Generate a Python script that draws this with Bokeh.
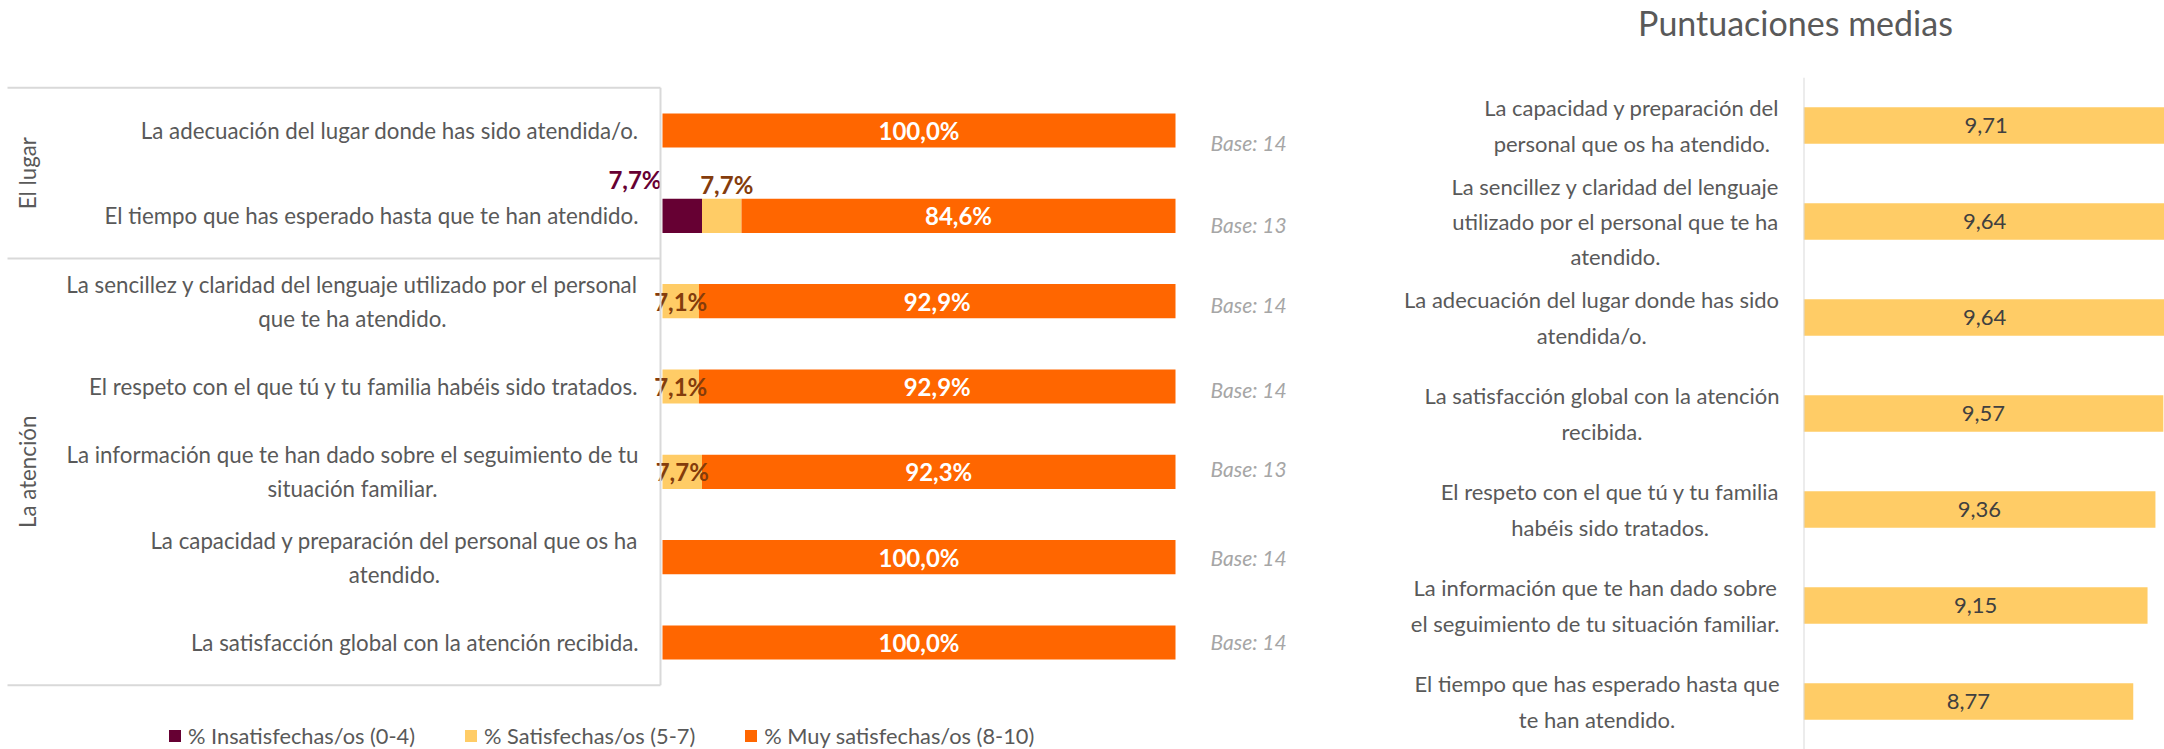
import math
from bokeh.plotting import figure
from bokeh.models import ColumnDataSource, Range1d, FactorRange, Legend, LegendItem, Span
from bokeh.layouts import row
from bokeh.core.properties import value
from bokeh.embed import file_html
from bokeh.resources import INLINE

# ---------------- data: left chart (stacked %) ----------------
categories = [
    "La adecuación del lugar donde has sido atendida/o.",
    "El tiempo que has esperado hasta que te han atendido.",
    "La sencillez y claridad del lenguaje utilizado por el personal\nque te ha atendido.",
    "El respeto con el que tú y tu familia habéis sido tratados.",
    "La información que te han dado sobre el seguimiento de tu\nsituación familiar.",
    "La capacidad y preparación del personal que os ha\natendido.",
    "La satisfacción global con la atención recibida.",
]
insatisfechas = [0.0, 7.7, 0.0, 0.0, 0.0, 0.0, 0.0]
satisfechas = [0.0, 7.7, 7.1, 7.1, 7.7, 0.0, 0.0]
muy_satisfechas = [100.0, 84.6, 92.9, 92.9, 92.3, 100.0, 100.0]
bases = [14, 13, 14, 14, 13, 14, 14]
groups = ["El lugar", "La atención"]
group_sizes = [2, 5]
series_names = ["% Insatisfechas/os (0-4)", "% Satisfechas/os (5-7)", "% Muy satisfechas/os (8-10)"]

# ---------------- data: right chart (mean scores) ----------------
score_labels = [
    "La capacidad y preparación del\npersonal que os ha atendido.",
    "La sencillez y claridad del lenguaje\nutilizado por el personal que te ha\natendido.",
    "La adecuación del lugar donde has sido\natendida/o.",
    "La satisfacción global con la atención\nrecibida.",
    "El respeto con el que tú y tu familia\nhabéis sido tratados.",
    "La información que te han dado sobre\nel seguimiento de tu situación familiar.",
    "El tiempo que has esperado hasta que\nte han atendido.",
]
scores = [9.71, 9.64, 9.64, 9.57, 9.36, 9.15, 8.77]
right_title = "Puntuaciones medias"

# ---------------- styles ----------------
FONT = "Lato"
C_INSAT, C_SAT, C_MUY = "#660033", "#FFCC66", "#FF6600"
C_TEXT = "#595959"
C_LINE = "#D9D9D9"
H = 749

def pct(v):
    return f"{v:.1f}".replace(".", ",") + "%"

# ================= LEFT FIGURE =================
WL = 1300
X0 = 662          # px where 0% sits
PXU = 5.13        # px per percentage point
L_TOP = 23
BAND_L = 85.33
def lx(px):
    return (px - X0) / PXU

pad_l = (H - (L_TOP + BAND_L * len(categories))) / 2 / BAND_L
p = figure(width=WL, height=H, title=None,
           x_range=Range1d(-X0 / PXU, (WL - X0) / PXU),
           y_range=FactorRange(factors=list(reversed(categories)),
                               range_padding=pad_l, range_padding_units="absolute"),
           output_backend="svg", toolbar_location=None,
           x_axis_location=None, y_axis_location=None,
           min_border_left=0, min_border_right=0,
           min_border_top=L_TOP, min_border_bottom=0)
p.frame_align = False
p.outline_line_color = None
p.grid.visible = False

src = ColumnDataSource(dict(cat=categories, insat=insatisfechas,
                            sat=satisfechas, muy=muy_satisfechas))
rs = p.hbar_stack(["insat", "sat", "muy"], y="cat", height=0.4,
                  color=[C_INSAT, C_SAT, C_MUY], line_color=None, source=src)

# category labels
p.text(x=0, y="cat", text="cat", source=src, x_offset=-24,
       anchor="center_right", text_align="center", text_baseline="middle",
       text_font=value(FONT), text_font_size="22.3px", text_color=C_TEXT,
       text_line_height=1.26)

# value labels: very satisfied
muy_src = ColumnDataSource(dict(
    cat=categories,
    x=[i + s + m / 2 for i, s, m in zip(insatisfechas, satisfechas, muy_satisfechas)],
    t=[pct(m) for m in muy_satisfechas]))
p.text(x="x", y="cat", text="t", source=muy_src, text_align="center",
       text_baseline="middle", text_font=value(FONT), text_font_size="24px",
       text_font_style="bold", text_color="white")

# satisfied labels
sat_rows = [k for k, s in enumerate(satisfechas) if s > 0]
sat_src = ColumnDataSource(dict(
    cat=[categories[k] for k in sat_rows],
    x=[insatisfechas[k] + satisfechas[k] / 2 for k in sat_rows],
    dy=[-31 if insatisfechas[k] > 0 else 0 for k in sat_rows],
    dx=[5 if insatisfechas[k] > 0 else 0 for k in sat_rows],
    t=[pct(satisfechas[k]) for k in sat_rows]))
p.text(x="x", y="cat", text="t", source=sat_src, x_offset="dx", y_offset="dy",
       text_align="center", text_baseline="middle", text_font=value(FONT),
       text_font_size="24px", text_font_style="bold", text_color="#843C0C")

# unsatisfied labels
ins_rows = [k for k, v in enumerate(insatisfechas) if v > 0]
ins_src = ColumnDataSource(dict(
    cat=[categories[k] for k in ins_rows],
    x=[0 for k in ins_rows],
    t=[pct(insatisfechas[k]) for k in ins_rows]))
p.text(x="x", y="cat", text="t", source=ins_src, x_offset=-1, y_offset=-36,
       text_align="right", text_baseline="middle", text_font=value(FONT),
       text_font_size="24px", text_font_style="bold", text_color=C_INSAT)

# base labels
base_dy = [12, 9, 3, 3, -3, 0, -1]
base_src = ColumnDataSource(dict(cat=categories, t=[f"Base: {b}" for b in bases],
                                 dy=base_dy))
p.text(x=lx(1210), y="cat", text="t", source=base_src, y_offset="dy",
       text_align="left", text_baseline="middle", text_font=value(FONT),
       text_font_size="21px", text_font_style="italic", text_color="#A6A6A6")

# group box lines and labels
xa, xb = lx(7), lx(660)
hy = [(categories[0], 0.5)]
start = 0
g_y = []
for size in group_sizes:
    end = start + size - 1
    hy.append((categories[end], -0.5))
    if size % 2 == 1:
        g_y.append((categories[start + size // 2], 0.0))
    else:
        g_y.append((categories[start + size // 2 - 1], -0.5))
    start += size
lines = ColumnDataSource(dict(
    x0=[xa] * len(hy) + [xb], x1=[xb] * len(hy) + [xb],
    y0=hy + [hy[0]], y1=hy + [hy[-1]]))
seg = p.segment(x0="x0", y0="y0", x1="x1", y1="y1", source=lines,
                line_color=C_LINE, line_width=2)
seg.level = "overlay"

p.text(x=[lx(27)] * len(groups), y=g_y, text=groups, angle=math.pi / 2,
       anchor="center", text_align="center", text_baseline="middle",
       text_font=value(FONT), text_font_size="22.3px", text_color=C_TEXT)

legend = Legend(items=[LegendItem(label=series_names[k], renderers=[rs[k]]) for k in range(3)],
                orientation="horizontal", location=(167, 0),
                glyph_width=15, glyph_height=15, label_standoff=6, spacing=48,
                padding=0, margin=0, border_line_color=None,
                background_fill_alpha=0, label_text_font=FONT,
                label_text_font_size="21.8px", label_text_color=C_TEXT)
p.add_layout(legend)

# ================= RIGHT FIGURE =================
WR = 864
R_LEFT = 503
R_TOP = 77
PXS = 37.6
q = figure(width=WR, height=H, title=None,
           x_range=Range1d(0, (WR - R_LEFT) / PXS),
           y_range=FactorRange(factors=list(reversed(score_labels))),
           output_backend="svg", toolbar_location=None,
           x_axis_location=None, y_axis_location=None,
           min_border_left=R_LEFT, min_border_right=0,
           min_border_top=R_TOP, min_border_bottom=0)
q.frame_align = False
q.outline_line_color = None
q.grid.visible = False

src2 = ColumnDataSource(dict(cat=score_labels, score=scores,
                             mid=[s / 2 for s in scores],
                             t=[f"{s:.2f}".replace(".", ",") for s in scores]))
q.hbar(y="cat", left=0, right="score", height=0.38, color=C_SAT,
       line_color=None, source=src2)
q.text(x="mid", y="cat", text="t", source=src2, text_align="center",
       text_baseline="middle", text_font=value(FONT), text_font_size="22px",
       text_color="#404040")
lab = q.text(x=0, y="cat", text="cat", source=src2, x_offset=-24,
             anchor="center_right", text_align="center", text_baseline="middle",
             text_font=value(FONT), text_font_size="22px", text_color=C_TEXT,
             text_line_height=1.3)
lab.level = "overlay"
q.add_layout(Span(location=0, dimension="height", line_color=C_LINE, line_width=2))

band = (H - R_TOP) / len(score_labels)
tt = q.text(x=[0], y=[(score_labels[0], 0.5 + 54.5 / band)], text=[right_title],
            x_offset=-8, text_align="center", text_baseline="middle",
            text_font=value(FONT), text_font_size="34px", text_color=C_TEXT)
tt.level = "overlay"

layout = row(p, q)
open("out.html", "w").write(file_html(layout, INLINE))
